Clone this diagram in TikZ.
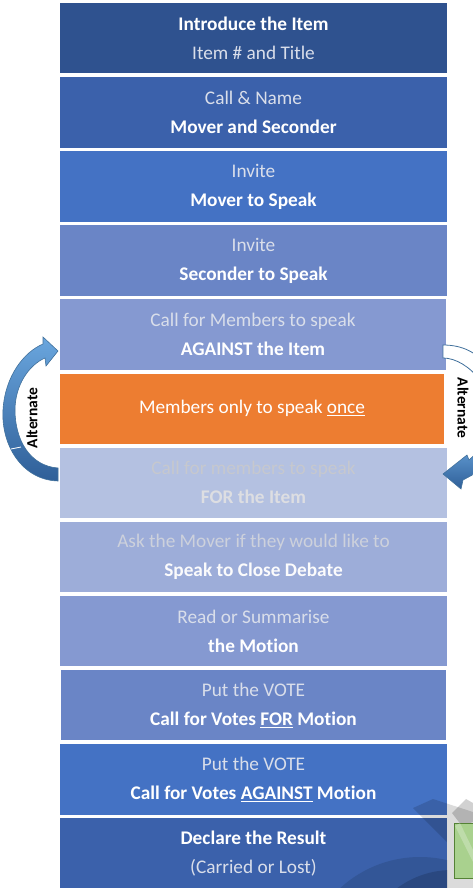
\documentclass[tikz,border=0pt]{standalone}
\usepackage{fontspec}
\setmainfont{Carlito}[Ligatures={NoCommon}]
\usetikzlibrary{calc}
\definecolor{cA}{HTML}{2F528F}
\definecolor{cB}{HTML}{3B61AB}
\definecolor{cC}{HTML}{4472C4}
\definecolor{cD}{HTML}{6A85C6}
\definecolor{cE}{HTML}{8599D1}
\definecolor{cF}{HTML}{ED7D31}
\definecolor{cG}{HTML}{B4C1E1}
\definecolor{cH}{HTML}{9DADD9}
\definecolor{subtxt}{HTML}{D9DEEA}
\definecolor{paletxt}{HTML}{CDD1DC}
\definecolor{greytxt}{HTML}{C6C8CE}
\definecolor{arrowlight}{HTML}{6AA6DE}
\definecolor{arrowdark}{HTML}{2F5F98}
\definecolor{arrowline}{HTML}{41719C}
\definecolor{greenfill}{HTML}{A9D18E}
\definecolor{greenline}{HTML}{548235}
\newcommand\hiline[1]{{\bfseries\color{white}#1}}
\newcommand\loline[1]{{\color{subtxt}#1}}
\newcommand\paleline[1]{{\color{paletxt}#1}}
\begin{document}
\begin{tikzpicture}[x=1pt,y=-1pt,
  stepbox/.style={minimum width=387pt, minimum height=70.5pt, inner sep=0pt,
    align=center, font=\fontsize{19.3}{29}\selectfont, text=white},
  altlabel/.style={font=\fontsize{15.5}{16}\selectfont\bfseries, text=black, inner sep=0pt},
  curvearrow/.style={top color=arrowlight, bottom color=arrowdark, draw=arrowline, line width=0.6pt}]
\useasboundingbox (0,0) rectangle (473,888);
\fill[white] (0,0) rectangle (473,888);

\node[stepbox, fill=cA] (b1) at (253.5,38.25) {\hiline{Introduce the Item}\\\loline{Item \# and Title}};
\node[stepbox, fill=cB] (b2) at (253.5,112.35) {\loline{Call \& Name}\\\hiline{Mover and Seconder}};
\node[stepbox, fill=cC] (b3) at (253.5,186.45) {\loline{Invite}\\\hiline{Mover to Speak}};
\node[stepbox, fill=cD] (b4) at (253.5,260.55) {\loline{Invite}\\\hiline{Seconder to Speak}};
\node[stepbox, fill=cE, minimum width=386pt] (b5) at (253,334.65) {\loline{Call for Members to speak}\\\hiline{AGAINST the Item}};
\node[stepbox, fill=cF, minimum width=384pt] (b6) at (252,408.75) {Members only to speak \underline{once}};
\node[stepbox, fill=cG] (b7) at (253.5,482.85) {{\color{greytxt}Call for members to speak}\\{\bfseries\color{greytxt!60!white}FOR the Item}};
\node[stepbox, fill=cH] (b8) at (253.5,556.95) {\paleline{Ask the Mover if they would like to}\\{\bfseries\color{white!92!paletxt}Speak to Close Debate}};
\node[stepbox, fill=cE] (b9) at (253.5,631.05) {\loline{Read or Summarise}\\\hiline{the Motion}};
\node[stepbox, fill=cD, minimum width=385pt] (b10) at (253.5,705.15) {\loline{Put the VOTE}\\\hiline{Call for Votes \underline{FOR} Motion}};
\node[stepbox, fill=cC] (b11) at (253.5,779.25) {\loline{Put the VOTE}\\\hiline{Call for Votes \underline{AGAINST} Motion}};
\node[stepbox, fill=cB] (b12) at (253.5,853.35) {\hiline{Declare the Result}\\\loline{(Carried or Lost)}};

% faint arcs inside the last box
\begin{scope}
  \clip (b12.south west) rectangle (b12.north east);
  \fill[cA!80!black, opacity=0.35] (420,975) circle (118);
  \fill[cA!70!black, opacity=0.45] (452,962) circle (92);
\end{scope}

% background decoration at bottom right
\fill[black, opacity=0.14] (413,808) -- (433,799) -- (473,812) -- (473,888) -- (447,888) -- (447,842) -- cycle;
\fill[black, opacity=0.18] (452,813) -- (466,799) -- (473,803) -- (473,822) -- (462,826) -- cycle;
\draw[greenline, fill=greenfill, line width=0.8pt] (454.5,823) rectangle (476,878);
\fill[white, opacity=0.25] (455,826) -- (460,823) -- (473,850) -- (473,862) -- cycle;

% left curved arrow (from b7 back up to b5)
\path[curvearrow]
  (58,481) .. controls (22,480) and (1,445) .. (3,410)
  .. controls (5,376) and (24,352) .. (43,344)
  -- (43,337) -- (58,351) -- (46,366) -- (45,358)
  .. controls (29,365) and (15,385) .. (15,410)
  .. controls (15,440) and (30,466) .. (58,468) -- cycle;
\draw[white, line width=0.8pt] (11,449) -- (21,447);
\node[altlabel, rotate=90] (altL) at (32,418) {Alternate};

% right curved arrow (from b5 down to b7), mostly outside the page
\begin{scope}
  \clip (0,0) rectangle (473,888);
  \path[fill=white, draw=arrowline, line width=0.8pt]
    (443,345) .. controls (462,345) and (478,352) .. (490,370)
    -- (480,380) .. controls (470,367) and (456,358) .. (443,358) -- cycle;
  \path[curvearrow]
    (492,440) .. controls (482,448) .. (469,460) -- (467,455) -- (443,474)
    -- (461,489) -- (463,480) .. controls (478,472) .. (497,458) -- cycle;
\end{scope}
\node[altlabel, rotate=-90] (altR) at (463,408) {Alternate};
\end{tikzpicture}
\end{document}
